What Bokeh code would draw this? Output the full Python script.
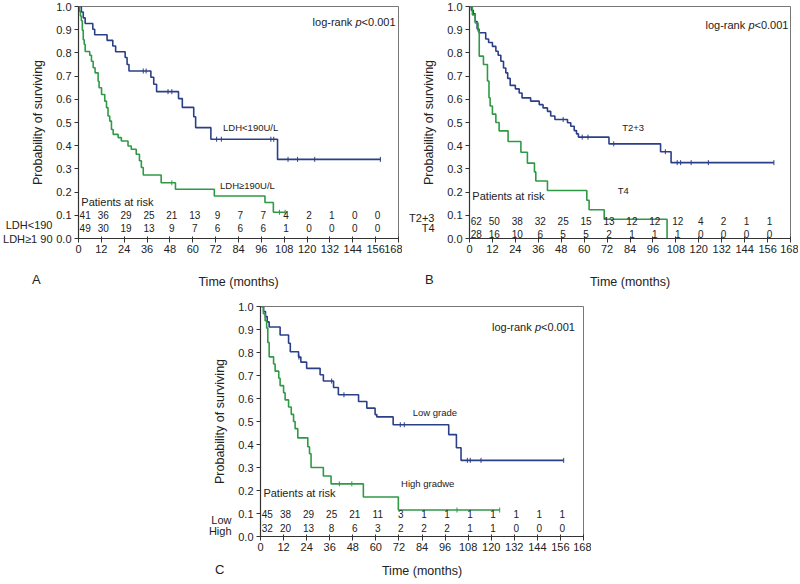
import numpy as np
from bokeh.plotting import figure
from bokeh.models import (Range1d, FixedTicker, Label, Spacer, NumeralTickFormatter,
                          LinearAxis, Div)
from bokeh.layouts import row, column
from bokeh.embed import file_html
from bokeh.resources import INLINE
from bokeh.core.properties import value

FONT = "Liberation Sans"
BLUE = "#2b3f87"
GREEN = "#2f9a46"
INK = "#222222"

x_ticks = list(range(0, 169, 12))
y_ticks = [round(0.1 * i, 1) for i in range(11)]
risk_months = list(range(0, 157, 12))
y_title = "Probability of surviving"
x_title = "Time (months)"

# ---------------- Panel A : LDH ----------------
a_low_t = [0, 1.5, 2.5, 3.5, 7.5, 8.5, 15, 18, 19.5, 24.5, 25.5, 26.5, 38, 39.5, 41, 52.5,
           54.5, 60.5, 61.5, 69.5, 104.5, 158.5]
a_low_s = [1.0, 0.976, 0.951, 0.927, 0.902, 0.878, 0.854, 0.830, 0.805, 0.780, 0.750, 0.722,
           0.695, 0.665, 0.633, 0.603, 0.565, 0.525, 0.478, 0.428, 0.341, 0.341]
a_low_c = [34, 35.5, 47, 49, 72.5, 75, 101, 102.5, 110, 115, 124, 158.5]
a_high_t = [0, 0.5, 1, 1.5, 2, 2.5, 3, 3.5, 5.9, 6.8, 7.7, 8.7, 10.3, 10.8, 12.1, 13.8,
            14.7, 15.5, 16.4, 17.3, 18.2, 20.8, 22.5, 26, 27.7, 30.3, 32, 33, 34, 43.4,
            50.9, 71.3, 97.9, 102.3, 108.5]
a_high_s = [1.0, 0.98, 0.959, 0.939, 0.898, 0.857, 0.837, 0.806, 0.79, 0.764, 0.736, 0.714,
            0.678, 0.65, 0.621, 0.592, 0.564, 0.528, 0.506, 0.47, 0.449, 0.435, 0.42, 0.399,
            0.385, 0.363, 0.335, 0.306, 0.274, 0.24, 0.212, 0.183, 0.155, 0.113, 0.113]
a_high_c = [49, 105.5, 108.5]
a_risk_low = [41, 36, 29, 25, 21, 13, 9, 7, 7, 4, 2, 1, 0, 0]
a_risk_high = [49, 30, 19, 13, 9, 7, 6, 6, 6, 1, 0, 0, 0, 0]
a_row_names = ["LDH<190", "LDH\u22651 90"]
a_curve_names = ["LDH<190U/L", "LDH\u2265190U/L"]

# ---------------- Panel B : T stage ----------------
b_low_t = [0, 1, 2, 3, 4, 5, 8.5, 10, 12, 13.8, 15, 16.4, 17.8, 19, 20, 21.3, 24, 26, 27.5,
           32, 36.5, 38.5, 40.8, 42.5, 44.7, 51.3, 53, 54.8, 56, 57, 73, 100, 105.5, 159.3]
b_low_s = [1.0, 0.984, 0.968, 0.935, 0.903, 0.887, 0.86, 0.845, 0.828, 0.807, 0.79, 0.764,
           0.735, 0.714, 0.69, 0.66, 0.645, 0.627, 0.606, 0.592, 0.577, 0.563, 0.548, 0.528,
           0.513, 0.499, 0.484, 0.465, 0.451, 0.437, 0.408, 0.374, 0.327, 0.327]
b_low_c = [49, 59, 62, 75.5, 102.5, 108.7, 110.5, 116, 125, 159.3]
b_high_t = [0, 1.5, 3, 4.5, 5.1, 7.3, 9.4, 10.2, 10.8, 12, 13.8, 15.5, 20.2, 26.9, 30.3, 34,
            34.7, 40.8, 61.4, 62.6, 70.5, 103.4]
b_high_s = [1.0, 0.964, 0.929, 0.893, 0.786, 0.75, 0.679, 0.607, 0.571, 0.536, 0.5, 0.464,
            0.418, 0.372, 0.325, 0.287, 0.248, 0.207, 0.165, 0.124, 0.083, 0.0]
b_high_c = []
b_risk_low = [62, 50, 38, 32, 25, 15, 13, 12, 12, 12, 4, 2, 1, 1]
b_risk_high = [28, 16, 10, 6, 5, 5, 2, 1, 1, 1, 0, 0, 0, 0]
b_row_names = ["T2+3", "T4"]
b_curve_names = ["T2+3", "T4"]

# ---------------- Panel C : grade ----------------
c_low_t = [0, 1.6, 2.6, 3.5, 4.5, 10.2, 14.6, 15.5, 19.8, 21, 24, 31, 32.7, 38, 40.5, 51,
           55.3, 59.6, 60.5, 69, 97.9, 101.9, 104.3, 157.7]
c_low_s = [1.0, 0.978, 0.956, 0.933, 0.911, 0.876, 0.84, 0.803, 0.78, 0.758, 0.731, 0.703,
           0.676, 0.648, 0.616, 0.587, 0.558, 0.53, 0.52, 0.486, 0.443, 0.386, 0.331, 0.331]
c_low_c = [20, 37, 43.4, 72.7, 74.8, 107.6, 109.1, 114.7, 157.7]
c_high_t = [0, 1.5, 2.4, 3.2, 3.8, 4.5, 6.8, 7.6, 9.5, 10.2, 12, 12.8, 14.6, 16, 17.2, 18,
            19.4, 24.6, 25.5, 26.3, 32.7, 36.7, 53.5, 71.7, 124.4]
c_high_s = [1.0, 0.969, 0.938, 0.906, 0.844, 0.781, 0.75, 0.719, 0.688, 0.656, 0.625, 0.594,
            0.563, 0.531, 0.5, 0.469, 0.429, 0.39, 0.36, 0.3, 0.263, 0.229, 0.172, 0.115, 0.115]
c_high_c = [41, 47.5, 102.2, 124.4]
c_risk_low = [45, 38, 29, 25, 21, 11, 3, 1, 1, 1, 1, 1, 1, 1]
c_risk_high = [32, 20, 13, 8, 6, 3, 2, 2, 2, 1, 1, 0, 0, 0]
c_row_names = ["Low", "High"]
c_curve_names = ["Low grade", "High gradwe"]


def step_value(t, s, times):
    t = np.asarray(t, dtype=float)
    s = np.asarray(s, dtype=float)
    idx = np.searchsorted(t, np.asarray(times, dtype=float), side="right") - 1
    idx = np.clip(idx, 0, len(s) - 1)
    return s[idx]


def lab(p, x, y, text, size="10px", align="left", x_offset=0, style="normal"):
    p.add_layout(Label(x=x, y=y, x_offset=x_offset, text=text, text_font=FONT,
                       text_font_size=size, text_align=align, text_baseline="middle",
                       text_color=INK, text_font_style=style))


def style_axis(ax):
    ax.axis_line_color = "#333333"
    ax.axis_line_width = 1.2
    ax.major_tick_line_color = "#333333"
    ax.minor_tick_line_color = None
    ax.major_tick_out = 4
    ax.major_label_text_font = FONT
    ax.major_label_text_font_size = "11px"
    ax.major_label_text_color = INK
    ax.axis_label_text_font = FONT
    ax.axis_label_text_font_size = "12.5px"
    ax.axis_label_text_font_style = "normal"
    ax.axis_label_text_color = INK


def letter_div(letter, margin):
    return Div(text=letter, width=16, height=16, margin=margin,
               styles={"font-family": FONT, "font-size": "13px", "color": INK,
                       "line-height": "16px"})


def make_panel(width, height, mb_left, mb_right, mb_top, mb_bottom, xlab_standoff,
               low, high, risk_low, risk_high, risk_y, row_names, row_y, row_standoff,
               par_y, curve_names, curve_pos, lr_x, lr_y):
    p = figure(width=width, height=height, x_range=Range1d(0, 168), y_range=Range1d(0, 1.0),
               output_backend="svg", toolbar_location=None,
               min_border_left=mb_left, min_border_right=mb_right,
               min_border_top=mb_top, min_border_bottom=mb_bottom)
    p.grid.visible = False
    p.outline_line_color = "#777777"
    p.outline_line_width = 1
    p.xaxis.ticker = FixedTicker(ticks=x_ticks)
    p.yaxis.ticker = FixedTicker(ticks=y_ticks)
    p.yaxis.formatter = NumeralTickFormatter(format="0.0")
    for ax in p.axis:
        style_axis(ax)
    p.xaxis.major_tick_in = 2
    p.yaxis.major_tick_in = 0
    p.xaxis.major_label_standoff = 2
    p.yaxis.major_label_standoff = 3
    p.xaxis.axis_label = x_title
    p.xaxis.axis_label_standoff = xlab_standoff
    p.yaxis.axis_label = y_title
    p.yaxis.axis_label_standoff = 8

    # row names of the at-risk table, as a second left axis
    rows_axis = LinearAxis(ticker=FixedTicker(ticks=list(row_y)),
                           major_label_overrides={y: n for y, n in zip(row_y, row_names)})
    style_axis(rows_axis)
    rows_axis.axis_line_color = None
    rows_axis.major_tick_line_color = None
    rows_axis.major_tick_out = 0
    rows_axis.major_label_standoff = row_standoff
    p.add_layout(rows_axis, "left")

    for (t, s, c), color in ((low, BLUE), (high, GREEN)):
        p.step(x=t, y=s, mode="after", line_color=color, line_width=1.6)
        if len(c):
            p.scatter(x=c, y=step_value(t, s, c), marker="dash", angle=np.pi / 2, size=5,
                      line_color=color, line_width=1)

    xs = [m + 1 for m in risk_months]
    xs[0] = 3.5
    for vals, y in zip((risk_low, risk_high), risk_y):
        p.text(x=xs, y=[y] * len(vals), text=[str(v) for v in vals], text_font=value(FONT),
               text_font_size="10px", text_align="center", text_baseline="middle",
               text_color=INK)

    lab(p, 1.5, par_y, "Patients at risk", size="11px")
    for name, (x, y) in zip(curve_names, curve_pos):
        lab(p, x, y, name, size="9.5px")
    lab(p, lr_x, lr_y, "log-rank", size="11px")
    lab(p, lr_x, lr_y, "p", size="11px", x_offset=43, style="italic")
    lab(p, lr_x, lr_y, "<0.001", size="11px", x_offset=49)
    return p


pA = make_panel(402, 296, 77, 4, 6, 58, 19,
                (a_low_t, a_low_s, a_low_c), (a_high_t, a_high_s, a_high_c),
                a_risk_low, a_risk_high, (0.103, 0.044), a_row_names, (0.057, 0.0), -24,
                0.159, a_curve_names, ((75.9, 0.48), (74.3, 0.23)), 122.9, 0.935)
pB = make_panel(396, 296, 67, 8, 6, 58, 19,
                (b_low_t, b_low_s, b_low_c), (b_high_t, b_high_s, b_high_c),
                b_risk_low, b_risk_high, (0.076, 0.019), b_row_names, (0.09, 0.047), -15,
                0.183, b_curve_names, ((79.9, 0.477), (77.6, 0.205)), 123.5, 0.92)
pC = make_panel(395, 286, 64, 8, 10, 46, 10,
                (c_low_t, c_low_s, c_low_c), (c_high_t, c_high_s, c_high_c),
                c_risk_low, c_risk_high, (0.1, 0.036), c_row_names, (0.073, 0.023), -21,
                0.187, c_curve_names, ((79.2, 0.54), (73.1, 0.23)), 120.4, 0.913)

letters_top = row(letter_div("A", (-24, 0, 8, 32)), letter_div("B", (-24, 0, 8, 377)))
letters_bottom = row(letter_div("C", (-20, 0, 4, 215)))

layout = column(row(pA, pB), letters_top, row(Spacer(width=196, height=286), pC),
                letters_bottom)
open("out.html", "w").write(file_html(layout, INLINE, title="Survival curves"))
